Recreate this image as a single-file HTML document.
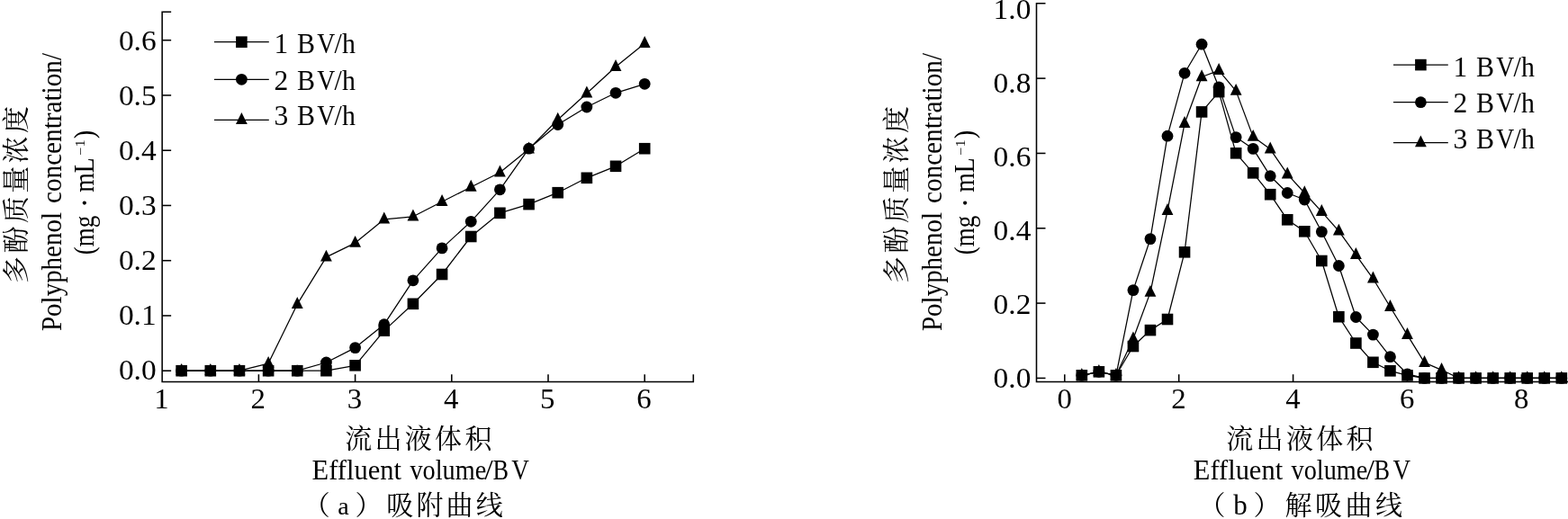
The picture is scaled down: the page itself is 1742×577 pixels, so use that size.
<!DOCTYPE html>
<html><head><meta charset="utf-8"><title>Figure</title>
<style>html,body{margin:0;padding:0;background:#fff;}svg{display:block;will-change:transform;}text{font-family:"Liberation Serif",serif;fill:#000;}text.cjk{font-family:"Liberation Serif","Noto Serif CJK SC",serif;}</style>
</head><body>
<svg width="1742" height="577" viewBox="0 0 1742 577">
<rect x="0" y="0" width="1742" height="577" fill="#fff"/>
<g id="left">
<path d="M190.15 13.3H180.15V424.4H770.3V416.2" fill="none" stroke="#000" stroke-width="1.55"/>
<line x1="180.15" y1="412.2" x2="190.15" y2="412.2" stroke="#000" stroke-width="1.55"/>
<text x="131.9" y="422.4" font-size="32" textLength="41.8" lengthAdjust="spacingAndGlyphs">0.0</text>
<line x1="180.15" y1="350.95" x2="190.15" y2="350.95" stroke="#000" stroke-width="1.55"/>
<text x="131.9" y="361.4" font-size="32" textLength="41.8" lengthAdjust="spacingAndGlyphs">0.1</text>
<line x1="180.15" y1="289.7" x2="190.15" y2="289.7" stroke="#000" stroke-width="1.55"/>
<text x="131.9" y="300.4" font-size="32" textLength="41.8" lengthAdjust="spacingAndGlyphs">0.2</text>
<line x1="180.15" y1="228.45" x2="190.15" y2="228.45" stroke="#000" stroke-width="1.55"/>
<text x="131.9" y="239.4" font-size="32" textLength="41.8" lengthAdjust="spacingAndGlyphs">0.3</text>
<line x1="180.15" y1="167.2" x2="190.15" y2="167.2" stroke="#000" stroke-width="1.55"/>
<text x="131.9" y="178.4" font-size="32" textLength="41.8" lengthAdjust="spacingAndGlyphs">0.4</text>
<line x1="180.15" y1="105.95" x2="190.15" y2="105.95" stroke="#000" stroke-width="1.55"/>
<text x="131.9" y="117.4" font-size="32" textLength="41.8" lengthAdjust="spacingAndGlyphs">0.5</text>
<line x1="180.15" y1="44.7" x2="190.15" y2="44.7" stroke="#000" stroke-width="1.55"/>
<text x="131.9" y="56.4" font-size="32" textLength="41.8" lengthAdjust="spacingAndGlyphs">0.6</text>
<text x="171.3" y="454.3" font-size="32" textLength="16.4" lengthAdjust="spacingAndGlyphs">1</text>
<line x1="287.4" y1="424.4" x2="287.4" y2="416.2" stroke="#000" stroke-width="1.55"/>
<text x="278.5" y="454.3" font-size="32" textLength="16.4" lengthAdjust="spacingAndGlyphs">2</text>
<line x1="394.6" y1="424.4" x2="394.6" y2="416.2" stroke="#000" stroke-width="1.55"/>
<text x="385.7" y="454.3" font-size="32" textLength="16.4" lengthAdjust="spacingAndGlyphs">3</text>
<line x1="501.8" y1="424.4" x2="501.8" y2="416.2" stroke="#000" stroke-width="1.55"/>
<text x="492.9" y="454.3" font-size="32" textLength="16.4" lengthAdjust="spacingAndGlyphs">4</text>
<line x1="609" y1="424.4" x2="609" y2="416.2" stroke="#000" stroke-width="1.55"/>
<text x="600.1" y="454.3" font-size="32" textLength="16.4" lengthAdjust="spacingAndGlyphs">5</text>
<line x1="716.2" y1="424.4" x2="716.2" y2="416.2" stroke="#000" stroke-width="1.55"/>
<text x="707.3" y="454.3" font-size="32" textLength="16.4" lengthAdjust="spacingAndGlyphs">6</text>
<polyline points="201.64,412.2 233.8,412.2 265.96,412.2 298.12,404.1 330.28,338.2 362.44,285.9 394.6,270.1 426.76,243.8 458.92,240.8 491.08,224.2 523.24,208 555.4,191.7 587.56,165.8 619.72,133 651.88,103.7 684.04,74.2 716.2,48.2" fill="none" stroke="#000" stroke-width="1.25" stroke-linejoin="round"/><path d="M201.64 404L208.04 416.9L195.24 416.9Z"/><path d="M233.8 404L240.2 416.9L227.4 416.9Z"/><path d="M265.96 404L272.36 416.9L259.56 416.9Z"/><path d="M298.12 395.9L304.52 408.8L291.72 408.8Z"/><path d="M330.28 330L336.68 342.9L323.88 342.9Z"/><path d="M362.44 277.7L368.84 290.6L356.04 290.6Z"/><path d="M394.6 261.9L401 274.8L388.2 274.8Z"/><path d="M426.76 235.6L433.16 248.5L420.36 248.5Z"/><path d="M458.92 232.6L465.32 245.5L452.52 245.5Z"/><path d="M491.08 216L497.48 228.9L484.68 228.9Z"/><path d="M523.24 199.8L529.64 212.7L516.84 212.7Z"/><path d="M555.4 183.5L561.8 196.4L549 196.4Z"/><path d="M587.56 157.6L593.96 170.5L581.16 170.5Z"/><path d="M619.72 124.8L626.12 137.7L613.32 137.7Z"/><path d="M651.88 95.5L658.28 108.4L645.48 108.4Z"/><path d="M684.04 66L690.44 78.9L677.64 78.9Z"/><path d="M716.2 40L722.6 52.9L709.8 52.9Z"/>
<polyline points="201.64,412.2 233.8,412.2 265.96,412.2 298.12,412.2 330.28,412.2 362.44,403 394.6,386.6 426.76,360.7 458.92,311.8 491.08,275.9 523.24,246.3 555.4,210.8 587.56,165.2 619.72,138.5 651.88,119 684.04,103.3 716.2,93.3" fill="none" stroke="#000" stroke-width="1.25" stroke-linejoin="round"/><circle cx="201.64" cy="412.2" r="6.4"/><circle cx="233.8" cy="412.2" r="6.4"/><circle cx="265.96" cy="412.2" r="6.4"/><circle cx="298.12" cy="412.2" r="6.4"/><circle cx="330.28" cy="412.2" r="6.4"/><circle cx="362.44" cy="403" r="6.4"/><circle cx="394.6" cy="386.6" r="6.4"/><circle cx="426.76" cy="360.7" r="6.4"/><circle cx="458.92" cy="311.8" r="6.4"/><circle cx="491.08" cy="275.9" r="6.4"/><circle cx="523.24" cy="246.3" r="6.4"/><circle cx="555.4" cy="210.8" r="6.4"/><circle cx="587.56" cy="165.2" r="6.4"/><circle cx="619.72" cy="138.5" r="6.4"/><circle cx="651.88" cy="119" r="6.4"/><circle cx="684.04" cy="103.3" r="6.4"/><circle cx="716.2" cy="93.3" r="6.4"/>
<polyline points="201.64,412.2 233.8,412.2 265.96,412.2 298.12,412.2 330.28,412.2 362.44,412.2 394.6,406.3 426.76,367.6 458.92,337.8 491.08,305 523.24,263 555.4,236.8 587.56,227.1 619.72,214.2 651.88,197.8 684.04,184.8 716.2,165.2" fill="none" stroke="#000" stroke-width="1.25" stroke-linejoin="round"/><rect x="195.34" y="405.9" width="12.6" height="12.6"/><rect x="227.5" y="405.9" width="12.6" height="12.6"/><rect x="259.66" y="405.9" width="12.6" height="12.6"/><rect x="291.82" y="405.9" width="12.6" height="12.6"/><rect x="323.98" y="405.9" width="12.6" height="12.6"/><rect x="356.14" y="405.9" width="12.6" height="12.6"/><rect x="388.3" y="400" width="12.6" height="12.6"/><rect x="420.46" y="361.3" width="12.6" height="12.6"/><rect x="452.62" y="331.5" width="12.6" height="12.6"/><rect x="484.78" y="298.7" width="12.6" height="12.6"/><rect x="516.94" y="256.7" width="12.6" height="12.6"/><rect x="549.1" y="230.5" width="12.6" height="12.6"/><rect x="581.26" y="220.8" width="12.6" height="12.6"/><rect x="613.42" y="207.9" width="12.6" height="12.6"/><rect x="645.58" y="191.5" width="12.6" height="12.6"/><rect x="677.74" y="178.5" width="12.6" height="12.6"/><rect x="709.9" y="158.9" width="12.6" height="12.6"/>
<line x1="238" y1="46.7" x2="298.8" y2="46.7" stroke="#000" stroke-width="1.25"/><rect x="262.1" y="40.4" width="12.6" height="12.6"/><text x="304.6" y="59.4" font-size="31.5">1</text><text x="330" y="59.4" font-size="31.5" textLength="20" lengthAdjust="spacingAndGlyphs">B</text><text x="352.2" y="59.4" font-size="31.5" textLength="20" lengthAdjust="spacingAndGlyphs">V</text><text x="371.6" y="59.4" font-size="31.5" textLength="23.2" lengthAdjust="spacingAndGlyphs">/h</text><line x1="238" y1="88.3" x2="298.8" y2="88.3" stroke="#000" stroke-width="1.25"/><circle cx="268.4" cy="88.3" r="6.4"/><text x="304.6" y="99.5" font-size="31.5">2</text><text x="330" y="99.5" font-size="31.5" textLength="20" lengthAdjust="spacingAndGlyphs">B</text><text x="352.2" y="99.5" font-size="31.5" textLength="20" lengthAdjust="spacingAndGlyphs">V</text><text x="371.6" y="99.5" font-size="31.5" textLength="23.2" lengthAdjust="spacingAndGlyphs">/h</text><line x1="238" y1="133.3" x2="298.8" y2="133.3" stroke="#000" stroke-width="1.25"/><path d="M268.4 125.1L274.8 138L262 138Z"/><text x="304.6" y="139.4" font-size="31.5">3</text><text x="330" y="139.4" font-size="31.5" textLength="20" lengthAdjust="spacingAndGlyphs">B</text><text x="352.2" y="139.4" font-size="31.5" textLength="20" lengthAdjust="spacingAndGlyphs">V</text><text x="371.6" y="139.4" font-size="31.5" textLength="23.2" lengthAdjust="spacingAndGlyphs">/h</text>
<g transform="translate(28.3,315) rotate(-90)"><text class="cjk" x="0 33.4 66.8 100.2 133.6 167" y="0" font-size="30">多酚质量浓度</text></g><g transform="translate(68.1,368) rotate(-90)"><text x="0" y="0" font-size="31.5" textLength="132" lengthAdjust="spacingAndGlyphs">Polyphenol</text><text x="142" y="0" font-size="31.5" textLength="167" lengthAdjust="spacingAndGlyphs">concentration/</text></g><g transform="translate(104.1,283.2) rotate(-90)"><text x="0" y="0" font-size="31.5" textLength="43.5" lengthAdjust="spacingAndGlyphs">(mg</text><circle cx="57.6" cy="-10.3" r="2.1"/><text x="69.5" y="0" font-size="31.5" textLength="38.5" lengthAdjust="spacingAndGlyphs">mL</text><text x="110.5" y="-10.5" font-size="14" textLength="17.5" lengthAdjust="spacingAndGlyphs">−1</text><text x="129" y="0" font-size="31.5" textLength="9.5" lengthAdjust="spacingAndGlyphs">)</text></g>
<text class="cjk" x="383.2 416.5 449.8 483.1 516.4" y="498.2" font-size="30">流出液体积</text>
<text x="346.6" y="532.6" font-size="31.5" textLength="99.3" lengthAdjust="spacingAndGlyphs">Effluent</text><text x="455.4" y="532.6" font-size="31.5" textLength="84.8" lengthAdjust="spacingAndGlyphs">volume</text><text x="538.3" y="532.6" font-size="31.5" textLength="9.5" lengthAdjust="spacingAndGlyphs">/</text><text x="547.4" y="532.6" font-size="31.5" textLength="17.5" lengthAdjust="spacingAndGlyphs">B</text><text x="568.2" y="532.6" font-size="31.5" textLength="19.6" lengthAdjust="spacingAndGlyphs">V</text>
<text class="cjk" x="336.8" y="572" font-size="30">（</text>
<text x="375.2" y="572.2" font-size="28">a</text>
<text class="cjk" x="394.4" y="572" font-size="30">）</text>
<text class="cjk" x="429.2 462.4 495.6 528.8" y="572.4" font-size="30">吸附曲线</text>
</g>
<g id="right">
<path d="M1161.5 3.8H1151.5V424.4H1743" fill="none" stroke="#000" stroke-width="1.55"/>
<line x1="1151.5" y1="420.4" x2="1161.5" y2="420.4" stroke="#000" stroke-width="1.55"/>
<text x="1103.6" y="430.6" font-size="32" textLength="41.8" lengthAdjust="spacingAndGlyphs">0.0</text>
<line x1="1151.5" y1="337.08" x2="1161.5" y2="337.08" stroke="#000" stroke-width="1.55"/>
<text x="1103.6" y="348.65" font-size="32" textLength="41.8" lengthAdjust="spacingAndGlyphs">0.2</text>
<line x1="1151.5" y1="253.76" x2="1161.5" y2="253.76" stroke="#000" stroke-width="1.55"/>
<text x="1103.6" y="266.7" font-size="32" textLength="41.8" lengthAdjust="spacingAndGlyphs">0.4</text>
<line x1="1151.5" y1="170.44" x2="1161.5" y2="170.44" stroke="#000" stroke-width="1.55"/>
<text x="1103.6" y="184.75" font-size="32" textLength="41.8" lengthAdjust="spacingAndGlyphs">0.6</text>
<line x1="1151.5" y1="87.12" x2="1161.5" y2="87.12" stroke="#000" stroke-width="1.55"/>
<text x="1103.6" y="102.8" font-size="32" textLength="41.8" lengthAdjust="spacingAndGlyphs">0.8</text>
<text x="1103.6" y="20.85" font-size="32" textLength="41.8" lengthAdjust="spacingAndGlyphs">1.0</text>
<line x1="1182.8" y1="424.4" x2="1182.8" y2="416.2" stroke="#000" stroke-width="1.55"/>
<text x="1174.4" y="454.3" font-size="32" textLength="16.4" lengthAdjust="spacingAndGlyphs">0</text>
<line x1="1309.7" y1="424.4" x2="1309.7" y2="416.2" stroke="#000" stroke-width="1.55"/>
<text x="1301.3" y="454.3" font-size="32" textLength="16.4" lengthAdjust="spacingAndGlyphs">2</text>
<line x1="1436.6" y1="424.4" x2="1436.6" y2="416.2" stroke="#000" stroke-width="1.55"/>
<text x="1428.2" y="454.3" font-size="32" textLength="16.4" lengthAdjust="spacingAndGlyphs">4</text>
<line x1="1563.5" y1="424.4" x2="1563.5" y2="416.2" stroke="#000" stroke-width="1.55"/>
<text x="1555.1" y="454.3" font-size="32" textLength="16.4" lengthAdjust="spacingAndGlyphs">6</text>
<line x1="1690.4" y1="424.4" x2="1690.4" y2="416.2" stroke="#000" stroke-width="1.55"/>
<text x="1682" y="454.3" font-size="32" textLength="16.4" lengthAdjust="spacingAndGlyphs">8</text>
<polyline points="1201.84,417.3 1220.87,413.3 1239.9,417.3 1258.94,376.7 1277.97,325.1 1297.01,234.3 1316.05,137.3 1335.08,85.5 1354.12,78.3 1373.15,101.1 1392.18,152.1 1411.22,165.8 1430.25,193.7 1449.29,214.5 1468.33,235.3 1487.36,256.9 1506.39,283.3 1525.43,309.8 1544.46,341.3 1563.5,372.3 1582.53,403.2 1601.57,411.3 1620.61,420.4 1639.64,420.4 1658.67,420.4 1677.71,420.4 1696.74,420.4 1715.78,420.4 1734.82,420.4" fill="none" stroke="#000" stroke-width="1.25" stroke-linejoin="round"/><path d="M1201.84 409.1L1208.24 422L1195.43 422Z"/><path d="M1220.87 405.1L1227.27 418L1214.47 418Z"/><path d="M1239.9 409.1L1246.31 422L1233.5 422Z"/><path d="M1258.94 368.5L1265.34 381.4L1252.54 381.4Z"/><path d="M1277.97 316.9L1284.38 329.8L1271.57 329.8Z"/><path d="M1297.01 226.1L1303.41 239L1290.61 239Z"/><path d="M1316.05 129.1L1322.45 142L1309.64 142Z"/><path d="M1335.08 77.3L1341.48 90.2L1328.68 90.2Z"/><path d="M1354.12 70.1L1360.52 83L1347.71 83Z"/><path d="M1373.15 92.9L1379.55 105.8L1366.75 105.8Z"/><path d="M1392.18 143.9L1398.59 156.8L1385.78 156.8Z"/><path d="M1411.22 157.6L1417.62 170.5L1404.82 170.5Z"/><path d="M1430.25 185.5L1436.65 198.4L1423.85 198.4Z"/><path d="M1449.29 206.3L1455.69 219.2L1442.89 219.2Z"/><path d="M1468.33 227.1L1474.73 240L1461.92 240Z"/><path d="M1487.36 248.7L1493.76 261.6L1480.96 261.6Z"/><path d="M1506.39 275.1L1512.8 288L1499.99 288Z"/><path d="M1525.43 301.6L1531.83 314.5L1519.03 314.5Z"/><path d="M1544.46 333.1L1550.87 346L1538.06 346Z"/><path d="M1563.5 364.1L1569.9 377L1557.1 377Z"/><path d="M1582.53 395L1588.93 407.9L1576.13 407.9Z"/><path d="M1601.57 403.1L1607.97 416L1595.17 416Z"/><path d="M1620.61 412.2L1627.01 425.1L1614.2 425.1Z"/><path d="M1639.64 412.2L1646.04 425.1L1633.24 425.1Z"/><path d="M1658.67 412.2L1665.08 425.1L1652.27 425.1Z"/><path d="M1677.71 412.2L1684.11 425.1L1671.31 425.1Z"/><path d="M1696.74 412.2L1703.14 425.1L1690.34 425.1Z"/><path d="M1715.78 412.2L1722.18 425.1L1709.38 425.1Z"/><path d="M1734.82 412.2L1741.22 425.1L1728.41 425.1Z"/>
<polyline points="1201.84,417.3 1220.87,413.3 1239.9,417.3 1258.94,322.6 1277.97,265.6 1297.01,151.2 1316.05,81.3 1335.08,49.2 1354.12,96.9 1373.15,152.6 1392.18,165.4 1411.22,195.7 1430.25,214.5 1449.29,222 1468.33,257.7 1487.36,295.5 1506.39,352.5 1525.43,372.1 1544.46,396.7 1563.5,415.8 1582.53,420.4 1601.57,420.4 1620.61,420.4 1639.64,420.4 1658.67,420.4 1677.71,420.4 1696.74,420.4 1715.78,420.4 1734.82,420.4" fill="none" stroke="#000" stroke-width="1.25" stroke-linejoin="round"/><circle cx="1201.84" cy="417.3" r="6.4"/><circle cx="1220.87" cy="413.3" r="6.4"/><circle cx="1239.9" cy="417.3" r="6.4"/><circle cx="1258.94" cy="322.6" r="6.4"/><circle cx="1277.97" cy="265.6" r="6.4"/><circle cx="1297.01" cy="151.2" r="6.4"/><circle cx="1316.05" cy="81.3" r="6.4"/><circle cx="1335.08" cy="49.2" r="6.4"/><circle cx="1354.12" cy="96.9" r="6.4"/><circle cx="1373.15" cy="152.6" r="6.4"/><circle cx="1392.18" cy="165.4" r="6.4"/><circle cx="1411.22" cy="195.7" r="6.4"/><circle cx="1430.25" cy="214.5" r="6.4"/><circle cx="1449.29" cy="222" r="6.4"/><circle cx="1468.33" cy="257.7" r="6.4"/><circle cx="1487.36" cy="295.5" r="6.4"/><circle cx="1506.39" cy="352.5" r="6.4"/><circle cx="1525.43" cy="372.1" r="6.4"/><circle cx="1544.46" cy="396.7" r="6.4"/><circle cx="1563.5" cy="415.8" r="6.4"/><circle cx="1582.53" cy="420.4" r="6.4"/><circle cx="1601.57" cy="420.4" r="6.4"/><circle cx="1620.61" cy="420.4" r="6.4"/><circle cx="1639.64" cy="420.4" r="6.4"/><circle cx="1658.67" cy="420.4" r="6.4"/><circle cx="1677.71" cy="420.4" r="6.4"/><circle cx="1696.74" cy="420.4" r="6.4"/><circle cx="1715.78" cy="420.4" r="6.4"/><circle cx="1734.82" cy="420.4" r="6.4"/>
<polyline points="1201.84,417.3 1220.87,413.3 1239.9,417.3 1258.94,385 1277.97,367.1 1297.01,355 1316.05,280.3 1335.08,124.4 1354.12,102.1 1373.15,170.3 1392.18,192.3 1411.22,216.2 1430.25,244.3 1449.29,257.3 1468.33,290 1487.36,352.2 1506.39,381.5 1525.43,402.8 1544.46,412.3 1563.5,417.4 1582.53,420.4 1601.57,420.4 1620.61,420.4 1639.64,420.4 1658.67,420.4 1677.71,420.4 1696.74,420.4 1715.78,420.4 1734.82,420.4" fill="none" stroke="#000" stroke-width="1.25" stroke-linejoin="round"/><rect x="1195.54" y="411" width="12.6" height="12.6"/><rect x="1214.57" y="407" width="12.6" height="12.6"/><rect x="1233.61" y="411" width="12.6" height="12.6"/><rect x="1252.64" y="378.7" width="12.6" height="12.6"/><rect x="1271.67" y="360.8" width="12.6" height="12.6"/><rect x="1290.71" y="348.7" width="12.6" height="12.6"/><rect x="1309.75" y="274" width="12.6" height="12.6"/><rect x="1328.78" y="118.1" width="12.6" height="12.6"/><rect x="1347.82" y="95.8" width="12.6" height="12.6"/><rect x="1366.85" y="164" width="12.6" height="12.6"/><rect x="1385.88" y="186" width="12.6" height="12.6"/><rect x="1404.92" y="209.9" width="12.6" height="12.6"/><rect x="1423.95" y="238" width="12.6" height="12.6"/><rect x="1442.99" y="251" width="12.6" height="12.6"/><rect x="1462.03" y="283.7" width="12.6" height="12.6"/><rect x="1481.06" y="345.9" width="12.6" height="12.6"/><rect x="1500.1" y="375.2" width="12.6" height="12.6"/><rect x="1519.13" y="396.5" width="12.6" height="12.6"/><rect x="1538.16" y="406" width="12.6" height="12.6"/><rect x="1557.2" y="411.1" width="12.6" height="12.6"/><rect x="1576.23" y="414.1" width="12.6" height="12.6"/><rect x="1595.27" y="414.1" width="12.6" height="12.6"/><rect x="1614.31" y="414.1" width="12.6" height="12.6"/><rect x="1633.34" y="414.1" width="12.6" height="12.6"/><rect x="1652.38" y="414.1" width="12.6" height="12.6"/><rect x="1671.41" y="414.1" width="12.6" height="12.6"/><rect x="1690.44" y="414.1" width="12.6" height="12.6"/><rect x="1709.48" y="414.1" width="12.6" height="12.6"/><rect x="1728.52" y="414.1" width="12.6" height="12.6"/>
<line x1="1548" y1="72.1" x2="1608.8" y2="72.1" stroke="#000" stroke-width="1.25"/><rect x="1572.1" y="65.8" width="12.6" height="12.6"/><text x="1614.6" y="84.9" font-size="31.5">1</text><text x="1640" y="84.9" font-size="31.5" textLength="20" lengthAdjust="spacingAndGlyphs">B</text><text x="1662.2" y="84.9" font-size="31.5" textLength="20" lengthAdjust="spacingAndGlyphs">V</text><text x="1681.6" y="84.9" font-size="31.5" textLength="23.2" lengthAdjust="spacingAndGlyphs">/h</text><line x1="1548" y1="113.7" x2="1608.8" y2="113.7" stroke="#000" stroke-width="1.25"/><circle cx="1578.4" cy="113.7" r="6.4"/><text x="1614.6" y="125" font-size="31.5">2</text><text x="1640" y="125" font-size="31.5" textLength="20" lengthAdjust="spacingAndGlyphs">B</text><text x="1662.2" y="125" font-size="31.5" textLength="20" lengthAdjust="spacingAndGlyphs">V</text><text x="1681.6" y="125" font-size="31.5" textLength="23.2" lengthAdjust="spacingAndGlyphs">/h</text><line x1="1548" y1="158.6" x2="1608.8" y2="158.6" stroke="#000" stroke-width="1.25"/><path d="M1578.4 150.4L1584.8 163.3L1572 163.3Z"/><text x="1614.6" y="164.9" font-size="31.5">3</text><text x="1640" y="164.9" font-size="31.5" textLength="20" lengthAdjust="spacingAndGlyphs">B</text><text x="1662.2" y="164.9" font-size="31.5" textLength="20" lengthAdjust="spacingAndGlyphs">V</text><text x="1681.6" y="164.9" font-size="31.5" textLength="23.2" lengthAdjust="spacingAndGlyphs">/h</text>
<g transform="translate(1005.8,315) rotate(-90)"><text class="cjk" x="0 33.4 66.8 100.2 133.6 167" y="0" font-size="30">多酚质量浓度</text></g><g transform="translate(1046.4,368) rotate(-90)"><text x="0" y="0" font-size="31.5" textLength="132" lengthAdjust="spacingAndGlyphs">Polyphenol</text><text x="142" y="0" font-size="31.5" textLength="167" lengthAdjust="spacingAndGlyphs">concentration/</text></g><g transform="translate(1082.4,283.2) rotate(-90)"><text x="0" y="0" font-size="31.5" textLength="43.5" lengthAdjust="spacingAndGlyphs">(mg</text><circle cx="57.6" cy="-10.3" r="2.1"/><text x="69.5" y="0" font-size="31.5" textLength="38.5" lengthAdjust="spacingAndGlyphs">mL</text><text x="110.5" y="-10.5" font-size="14" textLength="17.5" lengthAdjust="spacingAndGlyphs">−1</text><text x="129" y="0" font-size="31.5" textLength="9.5" lengthAdjust="spacingAndGlyphs">)</text></g>
<text class="cjk" x="1362.3 1395.6 1428.9 1462.2 1495.5" y="498.2" font-size="30">流出液体积</text>
<text x="1325.8" y="532.6" font-size="31.5" textLength="99.3" lengthAdjust="spacingAndGlyphs">Effluent</text><text x="1434.6" y="532.6" font-size="31.5" textLength="84.8" lengthAdjust="spacingAndGlyphs">volume</text><text x="1517.5" y="532.6" font-size="31.5" textLength="9.5" lengthAdjust="spacingAndGlyphs">/</text><text x="1526.6" y="532.6" font-size="31.5" textLength="17.5" lengthAdjust="spacingAndGlyphs">B</text><text x="1547.4" y="532.6" font-size="31.5" textLength="19.6" lengthAdjust="spacingAndGlyphs">V</text>
<text class="cjk" x="1331.6" y="572" font-size="30">（</text>
<text x="1370.2" y="572.2" font-size="31">b</text>
<text class="cjk" x="1392.6" y="572" font-size="30">）</text>
<text class="cjk" x="1427.55 1461.05 1494.55 1528.05" y="572.4" font-size="30">解吸曲线</text>
</g>
</svg></body></html>
